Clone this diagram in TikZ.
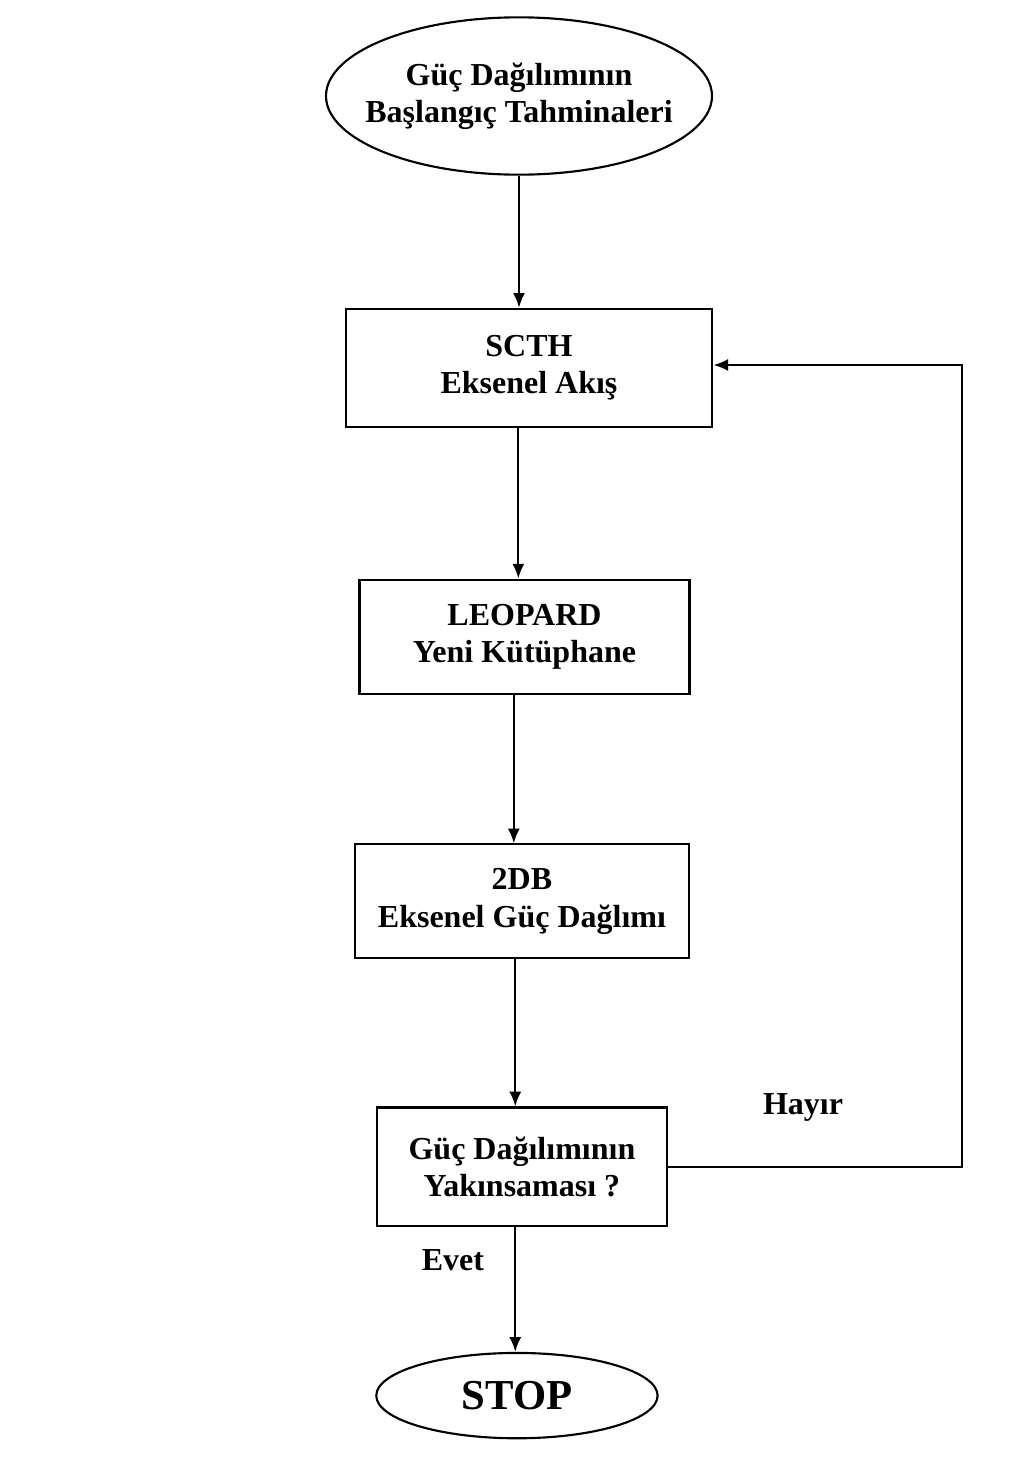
\documentclass[tikz,border=0pt]{standalone}
\usepackage{fontspec}
\setmainfont{Liberation Serif}
\usetikzlibrary{arrows.meta,positioning,shapes.geometric}

\begin{document}
\begin{tikzpicture}[x=0.75pt,y=-0.75pt, every node/.style={align=center,font=\fontsize{24}{28}\selectfont\bfseries,inner sep=0pt}, box/.style={draw,line width=1.6pt}, oval/.style={draw,ellipse,line width=1.6pt}, arr/.style={-{Latex[length=11pt,width=9pt]},line width=1.6pt}]
\useasboundingbox (0,0) rectangle (1012,1460);
\node[oval,inner xsep=-14pt,minimum width=289.5pt,minimum height=118pt] (start) at (519,96) {Güç Dağılımının\\Başlangıç Tahminaleri};
\node[box,below=99pt of start,xshift=7.5pt,minimum width=275pt,minimum height=88.5pt] (scth) {SCTH\\Eksenel Akış};
\node[box,below=113pt of scth,xshift=-3.4pt,minimum width=247.5pt,minimum height=86pt] (leo) {LEOPARD\\Yeni Kütüphane};
\node[box,below=111pt of leo,xshift=-1.9pt,minimum width=251pt,minimum height=85.5pt] (db) {2DB\\Eksenel Güç Dağlımı};
\node[box,below=110.2pt of db,minimum width=218pt,minimum height=89pt] (conv) {Güç Dağılımının\\Yakınsaması ?};
\node[oval,below=93.5pt of conv,xshift=-3.75pt,minimum width=211pt,minimum height=64pt,font=\fontsize{32}{36}\selectfont\bfseries] (stop) {STOP};
\coordinate (rt) at (962,365);
\node (hayir) at (803,1107) {Hayır};
\node (evet) at (453,1260) {Evet};
\draw[arr] (start.south)--(start.south |- scth.north);
\draw[arr] ([xshift=-8pt]scth.south)--([xshift=-8pt]scth.south |- leo.north);
\draw[arr] ([xshift=-8pt]leo.south)--([xshift=-8pt]leo.south |- db.north);
\draw[arr] ([xshift=-5pt]db.south)--([xshift=-5pt]db.south |- conv.north);
\draw[arr] ([xshift=-5pt]conv.south)--([xshift=-5pt]conv.south |- stop.north);
\draw[arr] (conv.east)--(conv.east -| rt)--(rt)--(rt -| scth.east);
\end{tikzpicture}
\end{document}
